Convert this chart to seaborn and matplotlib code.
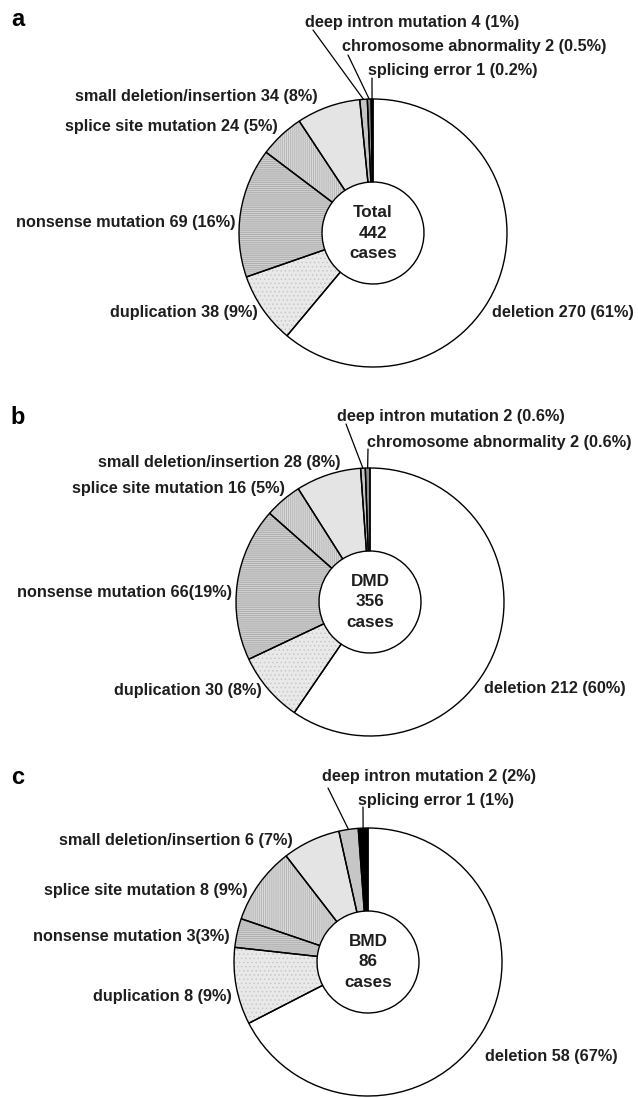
import numpy as np
import matplotlib
matplotlib.use("Agg")
import matplotlib.pyplot as plt
import seaborn as sns

sns.set_theme(style="white")
plt.rcParams["font.family"] = ["Liberation Sans", "DejaVu Sans"]
plt.rcParams["hatch.linewidth"] = 0.6

W, H = 638, 1098  # canvas size in pixels; data units are pixels

# ---- data -----------------------------------------------------------------
categories = ["deletion", "duplication", "nonsense mutation",
              "splice site mutation", "small deletion/insertion",
              "deep intron mutation", "chromosome abnormality",
              "splicing error"]

counts_total = [270, 38, 69, 24, 34, 4, 2, 1]
pct_total = [" (61%)", " (9%)", " (16%)", " (5%)", " (8%)", " (1%)", " (0.5%)", " (0.2%)"]

counts_dmd = [212, 30, 66, 16, 28, 2, 2, 0]
pct_dmd = [" (60%)", " (8%)", "(19%)", " (5%)", " (8%)", " (0.6%)", " (0.6%)", ""]

counts_bmd = [58, 8, 3, 8, 6, 2, 0, 1]
pct_bmd = [" (67%)", " (9%)", "(3%)", " (9%)", " (7%)", " (2%)", "", " (1%)"]

group_names = ["Total", "DMD", "BMD"]
panel_letters = ["a", "b", "c"]

# ---- styles ---------------------------------------------------------------
fills = ["white", "#e9e9e9", "#d0d0d0", "#d9d9d9", "#e4e4e4", "#c6c6c6", "#8e8e8e", "black"]
hatches = [None, "....", "--------", "||||||||", None, None, None, None]
hatch_colors = [None, "#c8c8c8", "#a9a9a9", "#b3b3b3", None, None, None, None]

R, r = 134, 51
FS = 11.7
TEXT_COLOR = "#1e1e1e"

# layout per panel: pie centre, letter y, label anchors (x, y, ha, leader start)
layouts = [
    dict(center=(373, 233), letter_y=20, labels={
        0: (492, 313, "left", None),
        1: (258, 313, "right", None),
        2: (235, 223, "right", None),
        3: (278, 127, "right", None),
        4: (318, 97, "right", None),
        5: (305, 22, "left", (313, 30)),
        6: (342, 47, "left", (348, 55)),
        7: (368, 70, "left", (372, 78)),
    }),
    dict(center=(370, 602), letter_y=417, labels={
        0: (484, 689, "left", None),
        1: (262, 690, "right", None),
        2: (232, 593, "right", None),
        3: (285, 489, "right", None),
        4: (340, 462, "right", None),
        5: (337, 417, "left", (346, 424)),
        6: (367, 442, "left", (368, 449)),
    }),
    dict(center=(368, 962), letter_y=777, labels={
        0: (485, 1057, "left", None),
        1: (232, 997, "right", None),
        2: (230, 937, "right", None),
        3: (248, 890, "right", None),
        4: (293, 840, "right", None),
        5: (322, 777, "left", (328, 788)),
        7: (358, 800, "left", (363, 807)),
    }),
]

panels = [(counts_total, pct_total), (counts_dmd, pct_dmd), (counts_bmd, pct_bmd)]

fig = plt.figure(figsize=(W / 100, H / 100), dpi=100)
ax = fig.add_axes([0, 0, 1, 1])

for (counts, pcts), name, letter, lay in zip(panels, group_names, panel_letters, layouts):
    idx = [i for i, c in enumerate(counts) if c > 0]
    vals = [counts[i] for i in idx]
    cx, cy = lay["center"][0], H - lay["center"][1]

    # filled / hatched ring
    fill_wedges, _ = ax.pie(vals, colors=[fills[i] for i in idx], radius=R,
                            center=(cx, cy), startangle=90, counterclock=False,
                            wedgeprops=dict(width=R - r, linewidth=0))
    for w, i in zip(fill_wedges, idx):
        if hatches[i]:
            w.set_hatch(hatches[i])
            w.set_edgecolor(hatch_colors[i])
            w.set_linewidth(0)

    # black outlines on top
    outline, _ = ax.pie(vals, colors=["none"] * len(vals), radius=R,
                        center=(cx, cy), startangle=90, counterclock=False,
                        wedgeprops=dict(width=R - r, edgecolor="black",
                                        linewidth=1.0, fill=False))

    # labels with optional leader lines to the wedge rim
    for w, i in zip(outline, idx):
        if i not in lay["labels"]:
            continue
        tx, ty, ha, lead = lay["labels"][i]
        text = f"{categories[i]} {counts[i]}{pcts[i]}"
        ax.text(tx, H - ty, text, ha=ha, va="center", fontsize=FS,
                fontweight="bold", color=TEXT_COLOR)
        if lead is not None:
            mid = np.deg2rad((w.theta1 + w.theta2) / 2)
            ex, ey = cx + R * np.cos(mid), cy + R * np.sin(mid)
            ax.plot([lead[0], ex], [H - lead[1], ey], color="black", lw=0.9)

    # centre text
    ax.text(cx, cy, f"{name}\n{sum(counts)}\ncases", ha="center", va="center",
            fontsize=12.3, fontweight="bold", color=TEXT_COLOR, linespacing=1.45)

    # panel letter
    ax.text(18, H - lay["letter_y"], letter, ha="center", va="center",
            fontsize=17, fontweight="bold", color="black")

ax.set_xlim(0, W)
ax.set_ylim(0, H)
ax.set_aspect("equal")
ax.axis("off")

fig.savefig("out.png", dpi=100, facecolor="white")
